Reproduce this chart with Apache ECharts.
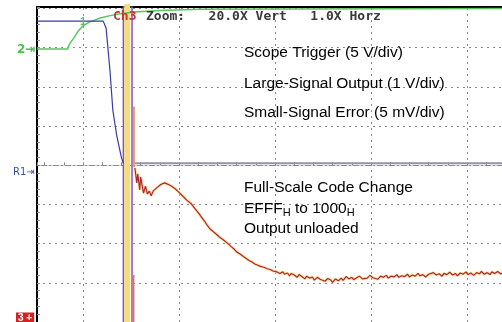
<!DOCTYPE html>
<html>
<head>
<meta charset="utf-8">
<script src="https://cdn.jsdelivr.net/npm/echarts@6/dist/echarts.min.js"></script>
<style>
html, body { margin: 0; padding: 0; background: #fff; }
#chart { width: 502px; height: 322px; }
</style>
</head>
<body>
<div id="chart"></div>
<script>
// scope screen, all values in divisions (x: time div, y: div from R1 level)
const xRange = [-0.48, 4.365]
const yRange = [-4, 4.04]
const gridColumns = [0, 1, 2, 3, 4]

// ch2: scope trigger
const triggerTrace = [
  [-0.48, 2.97], [-0.16, 2.97], [-0.14, 3.10], [-0.09, 3.27], [-0.05, 3.43], [0, 3.56],
  [0.07, 3.66], [0.18, 3.76], [0.28, 3.82], [0.39, 3.87], [0.54, 3.91], [0.80, 3.95],
  [1.22, 3.98], [2.26, 3.99], [4.4, 4.0]
]

// ch1: large-signal output
const outputTrace = [
  [-0.48, 3.68], [0.21, 3.68], [0.24, 3.50], [0.28, 2.43], [0.31, 1.41],
  [0.35, 0.77], [0.40, 0.19], [0.42, 0.06]
]
const settledTrace = [[0.54, 0.05], [4.4, 0.05]]

// ch3: small-signal error, clipped while slewing
const clipPurple = [0.42, 0.51]
const clipYellow = [0.46]
const clipOrange = [[0.53, 1.5], [0.53, -0.05]]
const clipPink = [[0.52, -2.8], [0.52, -4.2]]

const errorTrace = [
  [0.54, -0.07], [0.56, -0.45], [0.57, -0.22], [0.59, -0.63], [0.60, -0.30], [0.63, -0.71],
  [0.65, -0.53], [0.67, -0.73], [0.69, -0.66], [0.71, -0.78], [0.73, -0.66], [0.75, -0.71],
  [0.77, -0.57], [0.79, -0.56], [0.81, -0.49], [0.83, -0.50], [0.85, -0.45], [0.88, -0.48],
  [0.90, -0.46], [0.92, -0.53], [0.94, -0.53], [0.96, -0.60], [0.98, -0.62], [1.00, -0.69],
  [1.02, -0.70], [1.04, -0.79], [1.06, -0.80], [1.08, -0.89], [1.10, -0.91], [1.13, -0.99],
  [1.15, -1.02], [1.17, -1.12], [1.19, -1.14], [1.21, -1.24], [1.23, -1.28], [1.25, -1.38],
  [1.27, -1.44], [1.29, -1.52], [1.31, -1.55], [1.33, -1.64], [1.35, -1.68], [1.38, -1.74],
  [1.40, -1.77], [1.42, -1.83], [1.44, -1.85], [1.46, -1.90], [1.48, -1.94], [1.51, -2.00],
  [1.54, -2.07], [1.57, -2.13], [1.60, -2.21], [1.64, -2.27], [1.67, -2.33], [1.70, -2.38],
  [1.73, -2.43], [1.76, -2.47], [1.79, -2.52], [1.82, -2.55], [1.85, -2.58], [1.89, -2.61],
  [1.92, -2.64], [1.95, -2.66], [1.98, -2.70], [2.01, -2.71], [2.03, -2.68], [2.05, -2.76],
  [2.08, -2.72], [2.10, -2.78], [2.13, -2.75], [2.15, -2.82], [2.17, -2.76], [2.20, -2.80],
  [2.23, -2.86], [2.25, -2.79], [2.28, -2.84], [2.31, -2.90], [2.33, -2.83], [2.36, -2.88],
  [2.39, -2.85], [2.41, -2.93], [2.44, -2.86], [2.47, -2.91], [2.49, -2.88], [2.52, -2.96],
  [2.55, -2.89], [2.58, -2.93], [2.60, -2.99], [2.63, -2.90], [2.66, -2.95], [2.69, -2.88],
  [2.71, -2.94], [2.74, -2.84], [2.77, -2.90], [2.80, -2.86], [2.82, -2.92], [2.85, -2.87],
  [2.88, -2.83], [2.91, -2.90], [2.93, -2.85], [2.96, -2.88], [2.99, -2.81], [3.02, -2.87],
  [3.04, -2.84], [3.07, -2.91], [3.10, -2.83], [3.13, -2.86], [3.16, -2.81], [3.18, -2.88],
  [3.21, -2.83], [3.24, -2.85], [3.27, -2.79], [3.29, -2.86], [3.32, -2.82], [3.35, -2.84],
  [3.38, -2.78], [3.40, -2.85], [3.43, -2.80], [3.46, -2.83], [3.49, -2.76], [3.51, -2.82],
  [3.54, -2.79], [3.57, -2.85], [3.60, -2.78], [3.62, -2.81], [3.65, -2.74], [3.68, -2.80],
  [3.71, -2.77], [3.74, -2.83], [3.76, -2.76], [3.79, -2.79], [3.82, -2.73], [3.85, -2.80],
  [3.88, -2.76], [3.90, -2.82], [3.93, -2.75], [3.96, -2.78], [3.99, -2.72], [4.01, -2.79],
  [4.04, -2.75], [4.07, -2.81], [4.10, -2.74], [4.13, -2.77], [4.15, -2.71], [4.18, -2.78],
  [4.21, -2.74], [4.24, -2.79], [4.26, -2.72], [4.29, -2.76], [4.32, -2.71], [4.35, -2.77],
  [4.39, -2.74]
]

const scopeHeader = 'Zoom:   20.0X Vert   1.0X Horz'
const channelNotes = ['Scope Trigger (5 V/div)', 'Large-Signal Output (1 V/div)', 'Small-Signal Error (5 mV/div)']
const testNotes = ['Full-Scale Code Change', '{m|EFFF}{s|H}{m| to 1000}{s|H}', 'Output unloaded']

const SANS = '"Liberation Sans", Arial, sans-serif'
const MONO = '"DejaVu Sans Mono", monospace'
const GRID = '#8c8c8c'
const dotted = { color: GRID, width: 1, type: [2, 4] }

const vline = (x, color, width) => ({
  type: 'line', silent: true, showSymbol: false, z: 3,
  data: [[x, 4.6], [x, -4.6]],
  lineStyle: { color, width }
})

const chart = echarts.init(document.getElementById('chart'))

chart.setOption({
  animation: false,
  backgroundColor: '#fff',
  grid: { left: 37, top: 7, right: 0, bottom: 0 },
  xAxis: [
    {
      type: 'value', position: 'top', min: xRange[0], max: xRange[1],
      axisLine: { show: true, onZero: false, lineStyle: { color: '#000', width: 2 } },
      axisTick: { show: false },
      axisLabel: { show: false },
      splitLine: { show: false }
    },
    {
      // center graticule line with minor ticks
      type: 'value', position: 'bottom', min: xRange[0], max: xRange[1], splitNumber: 5,
      axisLine: { show: true, onZero: true, lineStyle: { color: GRID, width: 1, type: [2, 2] } },
      axisTick: { show: true, inside: true, length: 3, lineStyle: { color: GRID } },
      minorTick: { show: true, splitNumber: 5, length: 3, lineStyle: { color: GRID } },
      axisLabel: { show: false },
      splitLine: { show: false }
    }
  ],
  yAxis: [
    {
      type: 'value', position: 'left', min: yRange[0], max: yRange[1], interval: 1,
      axisLine: { show: true, onZero: false, lineStyle: { color: '#000', width: 2 } },
      axisTick: { show: true, inside: true, length: 3, lineStyle: { color: GRID } },
      minorTick: { show: true, splitNumber: 5, length: 3, lineStyle: { color: GRID } },
      axisLabel: { show: false },
      splitLine: { show: true, lineStyle: dotted }
    }
  ],
  series: [
    {
      type: 'line', silent: true, data: [], z: 1,
      markLine: {
        silent: true, symbol: 'none', label: { show: false },
        lineStyle: dotted,
        data: gridColumns.map(x => ({ xAxis: x }))
      }
    },
    ...clipPurple.map(x => vline(x, '#8a4ccc', 1.5)),
    ...clipYellow.map(x => vline(x, '#f4dc80', 6)),
    {
      type: 'line', silent: true, showSymbol: false, z: 3, data: clipOrange,
      lineStyle: { color: '#e8a060', width: 2 }
    },
    {
      type: 'line', silent: true, showSymbol: false, z: 3, data: clipPink,
      lineStyle: { color: '#c87890', width: 3 }
    },
    {
      type: 'line', silent: true, showSymbol: false, z: 4, data: settledTrace,
      lineStyle: { color: '#9292aa', width: 2 }
    },
    {
      type: 'line', silent: true, showSymbol: false, z: 4, data: triggerTrace,
      lineStyle: { color: '#5cc45c', width: 1.5 }
    },
    {
      type: 'line', silent: true, showSymbol: false, z: 5, data: outputTrace,
      lineStyle: { color: '#3a3aa2', width: 1.2 }
    },
    {
      type: 'line', silent: true, showSymbol: false, z: 5, data: errorTrace,
      lineStyle: { color: '#f2d060', width: 3, opacity: 0.55 }
    },
    {
      type: 'line', silent: true, showSymbol: false, z: 6, data: errorTrace,
      lineStyle: { color: '#b02430', width: 1.2 }
    }
  ],
  graphic: [
    {
      type: 'text', x: 113, y: 17, z: 50,
      style: { text: 'Ch3', font: 'bold 13px ' + MONO, fill: '#cc3333', verticalAlign: 'middle' }
    },
    {
      type: 'text', x: 146, y: 17, z: 50,
      style: { text: scopeHeader, font: 'bold 13px ' + MONO, fill: '#3a3a3a', verticalAlign: 'middle' }
    },
    ...channelNotes.map((t, i) => ({
      type: 'text', x: 244, y: [53, 84, 113][i], z: 50,
      style: { text: t, font: '15.5px ' + SANS, fill: '#000', verticalAlign: 'middle' }
    })),
    ...testNotes.map((t, i) => ({
      type: 'text', x: 244, y: [188, 209, 229][i], z: 50,
      style: {
        text: t, font: '15.5px ' + SANS, fill: '#000', verticalAlign: 'middle',
        rich: {
          m: { fontSize: 15.5, fontFamily: SANS, fill: '#000' },
          s: { fontSize: 11, fontFamily: SANS, fill: '#000', padding: [8, 0, 0, 0] }
        }
      }
    })),
    {
      type: 'text', x: 83, y: 22, z: 50,
      style: { text: '1', font: 'bold 11px ' + SANS, fill: '#5cc45c', align: 'center', verticalAlign: 'middle' }
    },
    {
      type: 'text', x: 17, y: 50, z: 50,
      style: { text: '2\u21e5', font: 'bold 12px "DejaVu Sans", sans-serif', fill: '#4cc04c', verticalAlign: 'middle' }
    },
    {
      type: 'text', x: 13, y: 172, z: 50,
      style: { text: 'R1\u21e5', font: '10px "DejaVu Sans", sans-serif', fill: '#3a50b0', verticalAlign: 'middle' }
    },
    {
      type: 'text', x: 16, y: 318, z: 50,
      style: {
        text: '3 +', font: 'bold 10px ' + SANS, fill: '#fff', verticalAlign: 'middle',
        backgroundColor: '#d42222', padding: [1, 2, 0, 2]
      }
    }
  ]
})
</script>
</body>
</html>
